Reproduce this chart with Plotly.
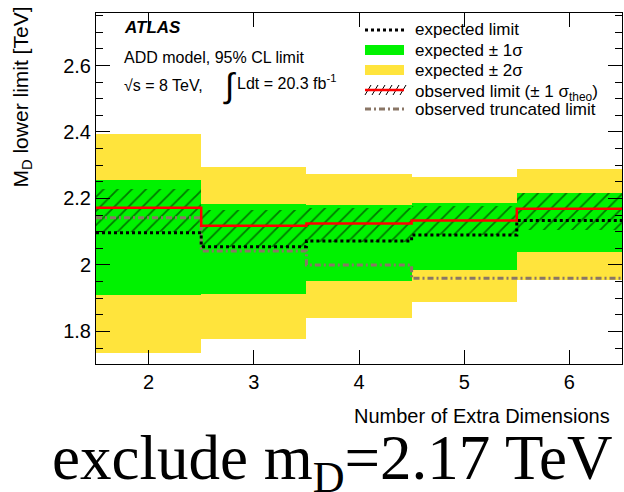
import plotly.graph_objects as go

# ---------------- data ----------------
n_dim = [2, 3, 4, 5, 6]
expected = [2.097, 2.055, 2.072, 2.090, 2.134]
exp_1s_lo = [1.910, 1.912, 1.952, 1.985, 2.040]
exp_1s_hi = [2.256, 2.184, 2.181, 2.186, 2.216]
exp_2s_lo = [1.735, 1.777, 1.841, 1.889, 1.955]
exp_2s_hi = [2.394, 2.295, 2.274, 2.265, 2.290]
observed = [2.172, 2.118, 2.125, 2.134, 2.169]
obs_theo_lo = [2.100, 2.055, 2.070, 2.090, 2.106]
obs_theo_hi = [2.229, 2.164, 2.172, 2.178, 2.216]
obs_trunc = [2.142, 2.042, 2.000, 1.960, 1.960]

y_ticks = [1.8, 2.0, 2.2, 2.4, 2.6]
y_ticktext = ["1.8", "2", "2.2", "2.4", "2.6"]

legend_labels = [
    "expected limit",
    "expected ± 1σ",
    "expected ± 2σ",
    "observed limit (± 1 σ<sub>theo</sub>)",
    "observed truncated limit",
]

# ---------------- styling ----------------
W, H = 624, 492
ML, MR, MT, MB = 96, 2, 13, 128
PW, PH = W - ML - MR, H - MT - MB
SANS = "Liberation Sans"
SERIF = "Liberation Serif"
YELLOW = "#ffe43c"
GREEN = "#00f200"
RED = "#ff0000"
TRUNC = "#8a7666"


def px(xp):
    return (xp - ML) / PW


def py(yp):
    return (MT + PH - yp) / PH


def step(vals):
    xs = [n - 0.5 for n in n_dim] + [n_dim[-1] + 0.5]
    ys = list(vals) + [vals[-1]]
    return xs, ys


fig = go.Figure()


def band(lo, hi, color, pattern=None):
    kw = dict(
        x=n_dim,
        y=[h - l for l, h in zip(lo, hi)],
        base=lo,
        width=1.0,
        showlegend=False,
        hoverinfo="skip",
    )
    if pattern:
        fig.add_trace(go.Bar(**kw, marker=dict(
            color="rgba(0,0,0,0)", line_width=0,
            pattern=dict(shape="/", fgcolor="black", bgcolor="rgba(0,0,0,0)",
                         size=10, solidity=0.18, fillmode="overlay"))))
    else:
        fig.add_trace(go.Bar(**kw, marker=dict(color=color, line_width=0)))


band(exp_2s_lo, exp_2s_hi, YELLOW)
band(exp_1s_lo, exp_1s_hi, GREEN)
band(obs_theo_lo, obs_theo_hi, None, pattern=True)

xs, ys = step(obs_trunc)
fig.add_trace(go.Scatter(x=xs, y=ys, mode="lines", line_shape="hv",
                         line=dict(color=TRUNC, width=3, dash="6px,3px,2px,3px"),
                         showlegend=False, hoverinfo="skip"))
xs, ys = step(expected)
fig.add_trace(go.Scatter(x=xs, y=ys, mode="lines", line_shape="hv",
                         line=dict(color="black", width=3, dash="dot"),
                         showlegend=False, hoverinfo="skip"))
xs, ys = step(observed)
fig.add_trace(go.Scatter(x=xs, y=ys, mode="lines", line_shape="hv",
                         line=dict(color=RED, width=2.5),
                         showlegend=False, hoverinfo="skip"))

shapes = []
annotations = []

# ---------------- manual legend ----------------
row_y = [30, 50, 70, 90, 109]
sx0, sx1 = 365, 404
tx = 413
shapes.append(dict(type="line", xref="paper", yref="paper",
                   x0=px(sx0), x1=px(sx1), y0=py(row_y[0]), y1=py(row_y[0]),
                   line=dict(color="black", width=3, dash="dot")))
shapes.append(dict(type="rect", xref="paper", yref="paper",
                   x0=px(sx0), x1=px(sx1), y0=py(row_y[1] + 5), y1=py(row_y[1] - 5),
                   fillcolor=GREEN, line_width=0))
shapes.append(dict(type="rect", xref="paper", yref="paper",
                   x0=px(sx0), x1=px(sx1), y0=py(row_y[2] + 5), y1=py(row_y[2] - 5),
                   fillcolor=YELLOW, line_width=0))
for k in range(6):
    xa = sx0 + k * 7
    shapes.append(dict(type="line", xref="paper", yref="paper",
                       x0=px(xa), x1=px(xa + 6), y0=py(row_y[3] + 5), y1=py(row_y[3] - 5),
                       line=dict(color="black", width=1)))
shapes.append(dict(type="line", xref="paper", yref="paper",
                   x0=px(sx0), x1=px(sx1), y0=py(row_y[3]), y1=py(row_y[3]),
                   line=dict(color=RED, width=2.5)))
shapes.append(dict(type="line", xref="paper", yref="paper",
                   x0=px(sx0), x1=px(sx1), y0=py(row_y[4]), y1=py(row_y[4]),
                   line=dict(color=TRUNC, width=3, dash="6px,3px,2px,3px")))
for i, (lab, yy) in enumerate(zip(legend_labels, row_y)):
    annotations.append(dict(text=lab, xref="paper", yref="paper", x=px(tx),
                            y=py(yy + (3 if i == 3 else 0)),
                            xanchor="left", yanchor="middle", showarrow=False,
                            font=dict(family=SANS, size=17, color="black")))

# ---------------- labels ----------------
annotations += [
    dict(text="<b><i>ATLAS</i></b>", x=px(122), y=py(28), xanchor="left", yanchor="middle",
         font=dict(family=SANS, size=17, color="black")),
    dict(text="ADD model, 95% CL limit", x=px(122), y=py(57), xanchor="left", yanchor="middle",
         font=dict(family=SANS, size=16, color="black")),
    dict(text="√s = 8 TeV,", x=px(122), y=py(85), xanchor="left", yanchor="middle",
         font=dict(family=SANS, size=16, color="black")),
    dict(text="∫", x=px(238), y=py(85), xanchor="right", yanchor="middle",
         font=dict(family=SANS, size=34, color="black")),
    dict(text="Ldt = 20.3 fb<sup>-1</sup>", x=px(235), y=py(82), xanchor="left", yanchor="middle",
         font=dict(family=SANS, size=16, color="black")),
    dict(text="M<sub>D</sub> lower limit [TeV]", x=px(22), y=py(5), xanchor="center",
         yanchor="top", textangle=-90, font=dict(family=SANS, size=21, color="black")),
    dict(text="Number of Extra Dimensions", x=px(612), y=py(416), xanchor="right",
         yanchor="middle", font=dict(family=SANS, size=20, color="black")),
    dict(text="exclude m<sub>D</sub>=2.17 TeV", x=px(614), y=py(462), xanchor="right",
         yanchor="middle", font=dict(family=SERIF, size=63, color="black")),
]
for a in annotations:
    a.setdefault("xref", "paper")
    a.setdefault("yref", "paper")
    a.setdefault("showarrow", False)

fig.update_layout(
    width=W, height=H,
    margin=dict(l=ML, r=MR, t=MT, b=MB),
    paper_bgcolor="white", plot_bgcolor="white",
    barmode="overlay", bargap=0,
    showlegend=False,
    shapes=shapes, annotations=annotations,
    font=dict(family=SANS, size=20, color="black"),
    xaxis=dict(range=[1.5, 6.5], tickmode="array", tickvals=n_dim,
               ticks="inside", ticklen=14, tickcolor="black",
               showline=True, linecolor="black", linewidth=1, mirror="ticks",
               showgrid=False, zeroline=False,
               tickfont=dict(family=SANS, size=20)),
    yaxis=dict(range=[1.702, 2.758], tickmode="array", tickvals=y_ticks,
               ticktext=y_ticktext,
               ticks="inside", ticklen=14, tickcolor="black",
               minor=dict(tickmode="linear", tick0=1.7, dtick=0.05, ticklen=7,
                          ticks="inside", tickcolor="black", showgrid=False),
               showline=True, linecolor="black", linewidth=1, mirror="ticks",
               showgrid=False, zeroline=False,
               tickfont=dict(family=SANS, size=20)),
)

fig.write_html("out.html")
